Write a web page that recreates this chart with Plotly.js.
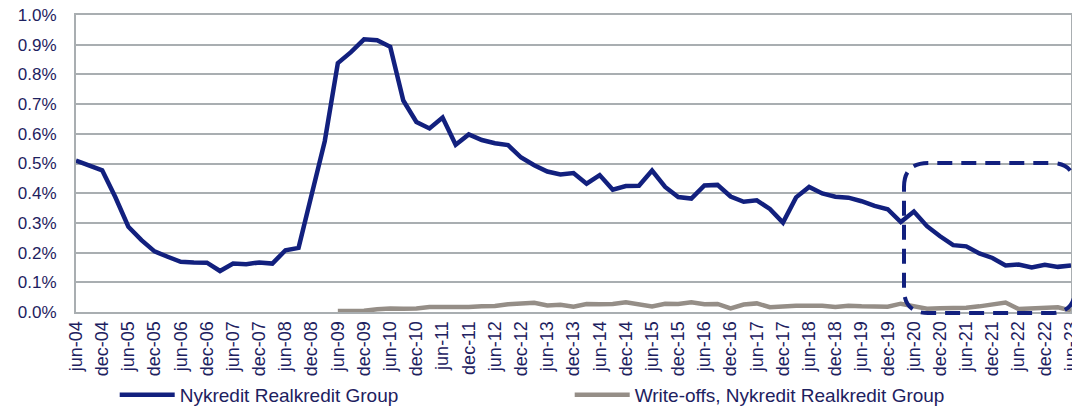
<!DOCTYPE html>
<html>
<head>
<meta charset="utf-8">
<script src="https://cdn.plot.ly/plotly-3.0.1.min.js"></script>
<style>
  html, body { margin: 0; padding: 0; background: #ffffff; }
  #chart { width: 1072px; height: 414px; }
</style>
</head>
<body>
<div id="chart"></div>
<script>
// quarterly categories, jun-04 .. jun-23
const quarters = [
    'jun-04', 'sep-04', 'dec-04', 'mar-05', 'jun-05', 'sep-05', 'dec-05', 'mar-06',
    'jun-06', 'sep-06', 'dec-06', 'mar-07', 'jun-07', 'sep-07', 'dec-07', 'mar-08',
    'jun-08', 'sep-08', 'dec-08', 'mar-09', 'jun-09', 'sep-09', 'dec-09', 'mar-10',
    'jun-10', 'sep-10', 'dec-10', 'mar-11', 'jun-11', 'sep-11', 'dec-11', 'mar-12',
    'jun-12', 'sep-12', 'dec-12', 'mar-13', 'jun-13', 'sep-13', 'dec-13', 'mar-14',
    'jun-14', 'sep-14', 'dec-14', 'mar-15', 'jun-15', 'sep-15', 'dec-15', 'mar-16',
    'jun-16', 'sep-16', 'dec-16', 'mar-17', 'jun-17', 'sep-17', 'dec-17', 'mar-18',
    'jun-18', 'sep-18', 'dec-18', 'mar-19', 'jun-19', 'sep-19', 'dec-19', 'mar-20',
    'jun-20', 'sep-20', 'dec-20', 'mar-21', 'jun-21', 'sep-21', 'dec-21', 'mar-22',
    'jun-22', 'sep-22', 'dec-22', 'mar-23', 'jun-23'
];

// labelled ticks (every half year)
const tickLabels = [
    'jun-04', 'dec-04', 'jun-05', 'dec-05', 'jun-06', 'dec-06', 'jun-07', 'dec-07',
    'jun-08', 'dec-08', 'jun-09', 'dec-09', 'jun-10', 'dec-10', 'jun-11', 'dec-11',
    'jun-12', 'dec-12', 'jun-13', 'dec-13', 'jun-14', 'dec-14', 'jun-15', 'dec-15',
    'jun-16', 'dec-16', 'jun-17', 'dec-17', 'jun-18', 'dec-18', 'jun-19', 'dec-19',
    'jun-20', 'dec-20', 'jun-21', 'dec-21', 'jun-22', 'dec-22', 'jun-23'
];

// impairment ratio, Nykredit Realkredit Group (%)
const groupRatio = [
    0.510, 0.495, 0.477, 0.387, 0.287, 0.242, 0.204, 0.186,
    0.169, 0.167, 0.166, 0.138, 0.163, 0.161, 0.167, 0.163,
    0.208, 0.216, 0.390, 0.575, 0.838, 0.875, 0.918, 0.915,
    0.893, 0.712, 0.640, 0.618, 0.655, 0.563, 0.598, 0.579,
    0.568, 0.562, 0.520, 0.494, 0.473, 0.463, 0.468, 0.432,
    0.461, 0.412, 0.424, 0.425, 0.476, 0.421, 0.387, 0.382,
    0.426, 0.428, 0.389, 0.371, 0.376, 0.347, 0.301, 0.386,
    0.421, 0.399, 0.388, 0.385, 0.373, 0.357, 0.346, 0.303,
    0.338, 0.289, 0.255, 0.225, 0.221, 0.197, 0.182, 0.157,
    0.160, 0.150, 0.159, 0.152, 0.157
];

// write-offs, from jun-09 (%)
const writeOffQuarters = quarters.slice(quarters.indexOf('jun-09'));
const writeOffs = [
    0.003, 0.003, 0.004, 0.009, 0.012, 0.011, 0.012, 0.017,
    0.016, 0.016, 0.017, 0.019, 0.020, 0.026, 0.027, 0.031,
    0.022, 0.024, 0.018, 0.027, 0.026, 0.027, 0.033, 0.027,
    0.019, 0.028, 0.027, 0.033, 0.026, 0.027, 0.012, 0.025,
    0.029, 0.016, 0.020, 0.021, 0.021, 0.021, 0.017, 0.021,
    0.019, 0.018, 0.018, 0.028, 0.019, 0.011, 0.013, 0.013,
    0.014, 0.019, 0.025, 0.032, 0.010, 0.012, 0.014, 0.016,
    0.005
];

const navy = '#12207e';
const textNavy = '#1d2160';
const grey = '#958e87';
const gridGrey = '#a9aeb1';

// plot area in px, used for the dashed highlight box
const plotL = 76, plotW = 995, plotT = 15, plotH = 297;
const px = x => (x - plotL) / plotW;
const py = y => (plotT + plotH - y) / plotH;

function boxPath(x0, y0, x1, y1, r) {
    return 'M' + px(x0) + ',' + py(y0 + r) +
        ' Q' + px(x0) + ',' + py(y0) + ' ' + px(x0 + r) + ',' + py(y0) +
        ' L' + px(x1 - r) + ',' + py(y0) +
        ' Q' + px(x1) + ',' + py(y0) + ' ' + px(x1) + ',' + py(y0 + r) +
        ' L' + px(x1) + ',' + py(y1 - r) +
        ' Q' + px(x1) + ',' + py(y1) + ' ' + px(x1 - r) + ',' + py(y1) +
        ' L' + px(x0 + r) + ',' + py(y1) +
        ' Q' + px(x0) + ',' + py(y1) + ' ' + px(x0) + ',' + py(y1 - r) + ' Z';
}

const traces = [
    {
        x: quarters, y: groupRatio,
        name: 'Nykredit Realkredit Group',
        mode: 'lines',
        line: {color: navy, width: 4.5},
        hoverinfo: 'skip'
    },
    {
        x: writeOffQuarters, y: writeOffs,
        name: 'Write-offs, Nykredit Realkredit Group',
        mode: 'lines',
        line: {color: grey, width: 4.5},
        hoverinfo: 'skip'
    }
];

const layout = {
    width: 1072,
    height: 414,
    margin: {l: plotL, r: 1072 - plotL - plotW, t: plotT, b: 414 - plotT - plotH},
    paper_bgcolor: '#ffffff',
    plot_bgcolor: '#ffffff',
    font: {family: 'Liberation Sans, Arial, sans-serif', color: textNavy, size: 17},
    showlegend: true,
    legend: {
        orientation: 'h',
        xref: 'container', yref: 'container',
        x: 0.107, xanchor: 'left',
        y: -0.012, yanchor: 'bottom',
        font: {size: 19, color: textNavy},
        entrywidth: 385,
        itemwidth: 55,
        tracegroupgap: 0
    },
    xaxis: {
        type: 'category',
        categoryarray: quarters,
        range: [0, quarters.length - 1],
        tickmode: 'array',
        tickvals: tickLabels,
        ticktext: tickLabels,
        tickangle: -90,
        ticks: '',
        showgrid: false,
        showline: true,
        mirror: true,
        linecolor: gridGrey,
        linewidth: 2,
        tickfont: {size: 18, color: textNavy},
        automargin: false,
        zeroline: false
    },
    yaxis: {
        range: [0, 1.0],
        dtick: 0.1,
        tickformat: '.1f',
        ticksuffix: '%',
        showgrid: true,
        gridcolor: gridGrey,
        gridwidth: 2,
        showline: true,
        mirror: true,
        linecolor: gridGrey,
        linewidth: 2,
        ticks: '',
        ticklabelstandoff: 14,
        tickfont: {size: 17, color: textNavy},
        automargin: false,
        zeroline: false
    },
    shapes: [
        {
            type: 'path',
            xref: 'paper', yref: 'paper',
            path: boxPath(904, 163, 1075, 313, 24),
            line: {color: navy, width: 4, dash: '15px,9px'},
            fillcolor: 'rgba(0,0,0,0)',
            layer: 'above'
        }
    ]
};

Plotly.newPlot('chart', traces, layout, {displayModeBar: false, staticPlot: true});
</script>
</body>
</html>
